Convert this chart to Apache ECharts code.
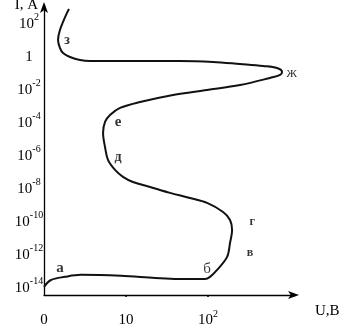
<!DOCTYPE html>
<html>
<head>
<meta charset="utf-8">
<script src="https://cdn.jsdelivr.net/npm/echarts@6/dist/echarts.min.js"></script>
<style>
html,body{margin:0;padding:0;background:#fff;}
#chart{width:349px;height:327px;}
</style>
</head>
<body>
<div id="chart"></div>
<script>
// Curve: x in axis units (0 -> "0", 1 -> "10", 2 -> "10²"), y = log10(I, A)
var curveU = [0, 0.085, 0.256, 0.451, 0.939, 1.354, 1.634, 1.963, 2.024, 2.110, 2.232, 2.268, 2.293, 2.268, 2.183, 1.988, 1.780, 1.537, 1.293, 1.085, 0.963, 0.866, 0.780, 0.744, 0.720, 0.744, 0.805, 0.927, 1.171, 1.573, 1.988, 2.390, 2.756, 2.878, 2.902, 2.841, 2.671, 2.390, 2.061, 1.659, 1.049, 0.561, 0.439, 0.317, 0.232, 0.195, 0.171, 0.195, 0.232, 0.280, 0.305];
var curveLogI = [-14.06, -13.64, -13.45, -13.33, -13.39, -13.52, -13.58, -13.58, -13.45, -13.03, -12.24, -11.39, -10.61, -10.0, -9.52, -8.97, -8.67, -8.36, -8.0, -7.70, -7.39, -6.97, -6.36, -5.58, -4.73, -4.06, -3.64, -3.21, -2.85, -2.42, -2.12, -1.82, -1.39, -1.21, -1.03, -0.79, -0.67, -0.55, -0.42, -0.36, -0.36, -0.36, -0.30, -0.12, 0.12, 0.42, 0.91, 1.52, 2.0, 2.55, 2.79];

// Region letters on the curve
var annoText = ['а', 'б', 'в', 'г', 'д', 'е', 'ж', 'з'];
var annoU = [0.195, 1.988, 2.512, 2.537, 0.902, 0.902, 3.02, 0.28];
var annoLogI = [-12.91, -12.97, -12.0, -10.12, -6.18, -4.06, -1.09, 0.91];
var annoSize = [15, 15, 12, 12, 14, 15, 15, 14];
var annoBold = [true, false, true, true, true, true, false, true];

// Tick labels
var xTickValues = [0, 1, 2];
var xTickBase = ['0', '10', '10'];
var xTickExp = ['', '', '2'];
var yTickValues = [2, 0, -2, -4, -6, -8, -10, -12, -14];
var yTickBase = ['10', '1', '10', '10', '10', '10', '10', '10', '10'];
var yTickExp = ['2', '', '-2', '-4', '-6', '-8', '-10', '-12', '-14'];

var FONT = 'Liberation Serif';

function labelFor(values, bases, exps) {
  return function (v) {
    for (var i = 0; i < values.length; i++) {
      if (Math.abs(values[i] - v) < 1e-6) {
        return exps[i] ? '{b|' + bases[i] + '}{s|' + exps[i] + '}' : '{b|' + bases[i] + '}';
      }
    }
    return '';
  };
}
var rich = {
  b: { fontFamily: FONT, fontSize: 15, color: '#000', lineHeight: 19, verticalAlign: 'bottom' },
  s: { fontFamily: FONT, fontSize: 10, color: '#000', lineHeight: 11, verticalAlign: 'top' }
};

var curveData = curveU.map(function (u, i) { return [u, curveLogI[i]]; });
var annoData = annoText.map(function (t, i) {
  return {
    value: [annoU[i], annoLogI[i]],
    name: t,
    label: { fontSize: annoSize[i], fontWeight: annoBold[i] ? 'bold' : 'normal' }
  };
});

var chart = echarts.init(document.getElementById('chart'), null, { renderer: 'canvas' });
chart.setOption({
  backgroundColor: '#fff',
  animation: false,
  grid: { left: 44, right: 54, top: 5, bottom: 32, containLabel: false, outerBoundsMode: 'none' },
  xAxis: {
    type: 'value',
    min: 0,
    max: 3.06,
    splitLine: { show: false },
    axisLine: { show: true, onZero: false, lineStyle: { color: '#000', width: 1.3 }, symbol: ['none', 'arrow'], symbolSize: [6, 11], symbolOffset: [0, 4] },
    axisTick: { show: true, customValues: [1, 2], length: 2, inside: false, lineStyle: { color: '#000', width: 1.5 } },
    axisLabel: { customValues: xTickValues, formatter: labelFor(xTickValues, xTickBase, xTickExp), rich: rich, margin: 14, color: '#000' },
    name: 'U,B',
    nameLocation: 'end',
    nameGap: 20,
    nameTextStyle: { fontFamily: FONT, fontSize: 15, color: '#000', align: 'left', verticalAlign: 'top', padding: [9, 0, 0, 0] }
  },
  yAxis: {
    type: 'value',
    min: -14.55,
    max: 3.03,
    splitLine: { show: false },
    axisLine: { show: true, onZero: false, lineStyle: { color: '#000', width: 1.3 }, symbol: ['none', 'arrow'], symbolSize: [6, 11], symbolOffset: [0, 3] },
    axisTick: { show: false },
    axisLabel: { customValues: yTickValues, formatter: labelFor(yTickValues, yTickBase, yTickExp), rich: rich, margin: 15, align: 'center', color: '#000' },
    name: 'I, A',
    nameLocation: 'end',
    nameGap: 0,
    nameTextStyle: { fontFamily: FONT, fontSize: 15, color: '#000', align: 'right', verticalAlign: 'middle', padding: [0, 6, 0, 0] }
  },
  series: [
    {
      type: 'line',
      data: curveData,
      smooth: 0.35,
      showSymbol: false,
      symbol: 'none',
      clip: false,
      lineStyle: { color: '#111', width: 2 },
      silent: true
    },
    {
      type: 'scatter',
      data: annoData,
      symbolSize: 0,
      clip: false,
      silent: true,
      label: {
        show: true,
        position: 'inside',
        formatter: function (p) { return p.name; },
        fontFamily: FONT,
        fontSize: 15,
        color: '#000'
      }
    }
  ]
});
</script>
</body>
</html>
